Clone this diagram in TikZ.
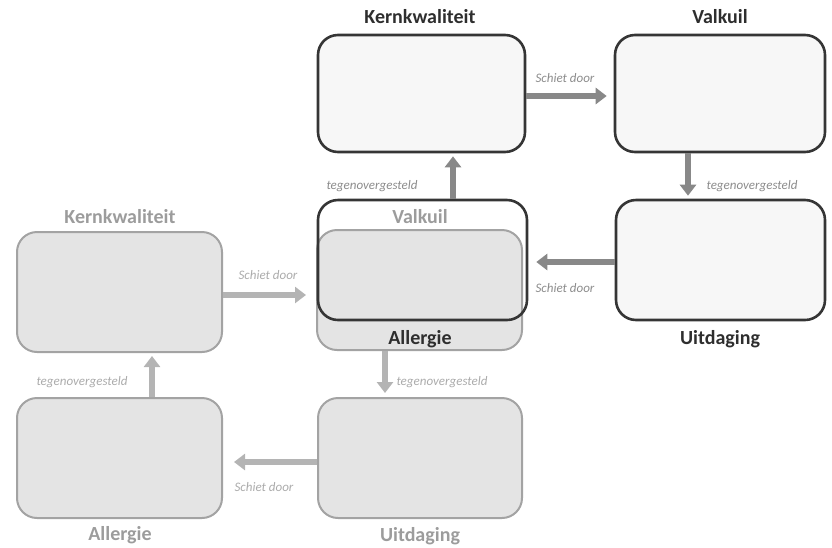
\documentclass[tikz,border=0pt]{standalone}
\usepackage{fontspec}
\setmainfont{Carlito}
\usetikzlibrary{arrows.meta}
\definecolor{frontline}{HTML}{353535}
\definecolor{frontfill}{HTML}{F7F7F7}
\definecolor{backline}{HTML}{A3A3A3}
\definecolor{backfill}{HTML}{E4E4E4}
\definecolor{backtext}{HTML}{9C9C9C}
\definecolor{fronttext}{HTML}{2E2E2E}
\definecolor{frontarrow}{HTML}{888888}
\definecolor{backarrow}{HTML}{B4B4B4}
\definecolor{smallfront}{HTML}{8C8C8C}
\definecolor{smallback}{HTML}{ABABAB}
\tikzset{
  backbox/.style={draw=backline, fill=backfill, line width=2pt, rounded corners=20pt, inner sep=0pt},
  frontbox/.style={draw=frontline, fill=frontfill, line width=2.6pt, rounded corners=20pt, inner sep=0pt},
  emptybox/.style={draw=frontline, line width=2.6pt, rounded corners=20pt, inner sep=0pt},
  fronthead/.style={text=fronttext, font=\bfseries\fontsize{20}{24}\selectfont, inner sep=0pt},
  backhead/.style={text=backtext, font=\bfseries\fontsize{20}{24}\selectfont, inner sep=0pt},
  smallf/.style={text=smallfront, font=\itshape\fontsize{13}{15}\selectfont, inner sep=0pt},
  smallb/.style={text=smallback, font=\itshape\fontsize{13}{15}\selectfont, inner sep=0pt},
  farrow/.style={draw=frontarrow, line width=5.5pt, -{Triangle[length=11pt,width=16pt]}},
  barrow/.style={draw=backarrow, line width=5.5pt, -{Triangle[length=11pt,width=16pt]}}
}
\begin{document}
\begin{tikzpicture}[x=1pt,y=-1pt]
\useasboundingbox (0,0) rectangle (832,547);
% ---------- back (gray) layer ----------
\node[backbox, minimum width=205pt, minimum height=120pt] (gK) at (119.5,292) {};
\node[backbox, minimum width=205pt, minimum height=120pt] (gV) at (419.5,290) {};
\node[backbox, minimum width=205pt, minimum height=120pt] (gA) at (119.5,458) {};
\node[backbox, minimum width=204pt, minimum height=120pt] (gU) at (420,458) {};
\node[backhead] (gKl) at (120,217) {Kernkwaliteit};
\node[backhead] (gVl) at (420,217) {Valkuil};
\node[backhead] (gAl) at (120,535) {Allergie};
\node[backhead] (gUl) at (420,536) {Uitdaging};
\draw[barrow, shorten >=10pt] ([yshift=-3pt]gK.east) -- ([yshift=-3pt]gK.east -| gV.west);
\draw[barrow, shorten >=4pt] ([xshift=-34.5pt]gV.south) -- ([xshift=-34.5pt]gV.south |- gU.north);
\draw[barrow, shorten >=11pt] ([yshift=-4pt]gU.west) -- ([yshift=-4pt]gU.west -| gA.east);
\draw[barrow, shorten >=3pt] ([xshift=32.5pt]gA.north) -- ([xshift=32.5pt]gA.north |- gK.south);
\node[smallb] (gs1) at (268,275) {Schiet door};
\node[smallb] (gt1) at (442,382) {tegenovergesteld};
\node[smallb] (gs2) at (264,487) {Schiet door};
\node[smallb] (gt2) at (82,382) {tegenovergesteld};
% ---------- front layer ----------
\node[frontbox, minimum width=207pt, minimum height=117pt] (fK) at (421.5,93.5) {};
\node[frontbox, minimum width=210pt, minimum height=117pt] (fV) at (720,93.5) {};
\node[frontbox, minimum width=209pt, minimum height=120pt] (fU) at (720.5,260) {};
\node[emptybox, minimum width=209pt, minimum height=120pt] (fA) at (422.5,260) {};
\node[fronthead] (fKl) at (420,17) {Kernkwaliteit};
\node[fronthead] (fVl) at (720,17) {Valkuil};
\node[fronthead] (fUl) at (720,339) {Uitdaging};
\node[fronthead] (fAl) at (420,339) {Allergie};
\draw[farrow, shorten >=7pt] ([yshift=-2.5pt]fK.east) -- ([yshift=-2.5pt]fK.east -| fV.west);
\draw[farrow, shorten >=3pt] ([xshift=-32pt]fV.south) -- ([xshift=-32pt]fV.south |- fU.north);
\draw[farrow, shorten >=8pt] ([yshift=-2pt]fU.west) -- ([yshift=-2pt]fU.west -| fA.east);
\draw[farrow, shorten >=3pt] ([xshift=30.5pt]fA.north) -- ([xshift=30.5pt]fA.north |- fK.south);
\node[smallf] (fs1) at (565,78) {Schiet door};
\node[smallf] (ft1) at (752,186) {tegenovergesteld};
\node[smallf] (fs2) at (565,288) {Schiet door};
\node[smallf] (ft2) at (372,186) {tegenovergesteld};
\end{tikzpicture}
\end{document}
